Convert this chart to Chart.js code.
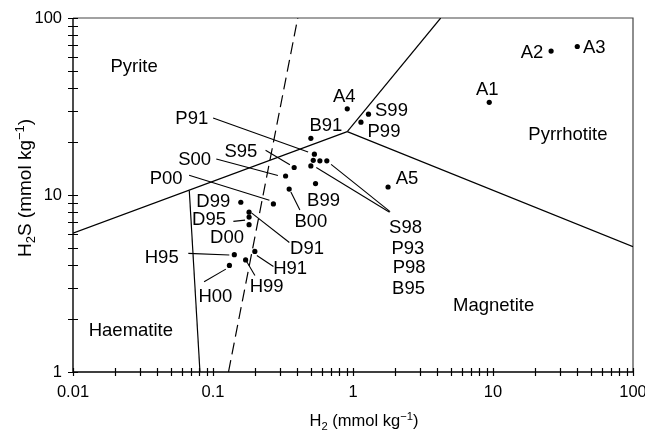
<!DOCTYPE html>
<html><head><meta charset="utf-8">
<script src="https://cdn.jsdelivr.net/npm/chart.js@4/dist/chart.umd.min.js"></script>
<style>html,body{margin:0;padding:0;background:#fff}#wrap{width:645px;height:430px}canvas{display:block}</style>
</head><body><div id="wrap"><canvas id="c" width="645" height="430"></canvas></div>
<script>
// ---- data ----
const sampleNames = ['A1','A2','A3','A4','A5','S99','P99','B91','P91','S95','S00','P00','B00','B99','S98','P93','P98','B95','D99','D91','D95','D00','H95','H00','H99','H91'];
const h2Values  = [9.4, 26, 40, 0.91, 1.78, 1.29, 1.14, 0.50, 0.53, 0.38, 0.33, 0.27, 0.35, 0.54, 0.52, 0.58, 0.65, 0.50, 0.158, 0.181, 0.181, 0.181, 0.142, 0.131, 0.171, 0.199];
const h2sValues = [33.4, 65, 69, 30.7, 11.1, 28.6, 25.8, 20.9, 17.0, 14.3, 12.8, 8.9, 10.8, 11.6, 15.7, 15.6, 15.6, 14.6, 9.1, 8.0, 7.5, 6.8, 4.6, 4.0, 4.3, 4.8];

const xTickLabels = ['0.01','0.1','1','10','100'];
const yTickLabels = ['1','10','100'];

// phase boundaries (H2, H2S)
const pyriteLowerH2 = [0.01, 0.91];   const pyriteLowerH2S = [6.08, 22.8];
const pyrPyrrH2 = [0.91, 4.23];       const pyrPyrrH2S = [22.8, 100];
const pyrrMagH2 = [0.91, 100];        const pyrrMagH2S = [22.8, 5.1];
const haemMagH2 = [0.0677, 0.0807];   const haemMagH2S = [10.6, 1];
const dashedH2 = [0.129, 0.403];      const dashedH2S = [1, 100];

const regionNames = ['Pyrite','Pyrrhotite','Magnetite','Haematite'];
const regionH2  = [0.0273, 34.3, 10.1, 0.0259];
const regionH2S = [54.3, 22.4, 2.41, 1.73];

// ---- layout of sample labels (pixel offsets from each point) ----
const labelLayout = {
 A1:{dx:-2,dy:-14}, A2:{dx:-19,dy:0}, A3:{dx:17,dy:0}, A4:{dx:-3,dy:-13}, A5:{dx:19,dy:-10},
 S99:{dx:23,dy:-5}, P99:{dx:23,dy:8}, B91:{dx:15,dy:-14},
 P91:{dx:-122.6,dy:-36.5, lead:[-101.3,-36.3,-6.3,-2.3]},
 S95:{dx:-53.3,dy:-17.3, lead:[-28.6,-17.3,-4.3,-2.8]},
 S00:{dx:-91,dy:-17.3, lead:[-69.3,-17,-7.7,-0.6]},
 P00:{dx:-107.3,dy:-26.7, lead:[-84.3,-28.7,-4,-3.7]},
 B00:{dx:21.7,dy:31.7, lead:[1.7,3,10.7,21]},
 B99:{dx:8,dy:16},
 S98:{dx:92.3,dy:65.7}, P93:{dx:88,dy:86.3},
 P98:{dx:82.3,dy:106, lead:[4.3,3.6,63.3,50.8]},
 B95:{dx:97.7,dy:121, lead:[5.4,1.6,78.7,46.3]},
 D99:{dx:-27.5,dy:-2}, D91:{dx:58,dy:35.7, lead:[2.7,1,40.3,30.4]},
 D95:{dx:-40,dy:1.3, lead:[-15.7,4.3,-4,3]}, D00:{dx:-22,dy:11.7},
 H95:{dx:-72.6,dy:1.6, lead:[-46,-1.3,-5,0.3]}, H00:{dx:-14,dy:29.7, lead:[-25.3,16.4,-3.6,3.7]},
 H99:{dx:21,dy:25.7, lead:[1,1.7,9.3,15.7]}, H91:{dx:35.3,dy:15.7, lead:[2,4,18.6,15]}
};

const FONT = '"Liberation Sans", Arial, Helvetica, sans-serif';
const LABEL_SIZE = 18.5;

function pts(xs, ys){ return xs.map((x,i)=>({x:x, y:ys[i]})); }
function decadeTicks(lo, hi){ const t=[]; for(let d=lo; d<hi*0.999; d*=10){ for(let m=1;m<10;m++) t.push(m*d); } t.push(hi); return t; }

const lineStyle = {showLine:true, pointRadius:0, borderColor:'#000', borderWidth:1.2, fill:false, tension:0};

function capText(ctx, text, x, cy, size, align){
  ctx.font = size + 'px ' + FONT;
  ctx.textAlign = align || 'center';
  ctx.textBaseline = 'alphabetic';
  ctx.fillText(text, x, cy + size*0.358);
}

function richParts(ctx, parts, size){
  const out = []; let w = 0;
  for (const p of parts){
    const s = (p.sub||p.sup) ? size*0.68 : size;
    ctx.font = s + 'px ' + FONT;
    const pw = ctx.measureText(p.t).width;
    out.push({t:p.t, s:s, w:pw, dy: p.sub ? size*0.22 : (p.sup ? -size*0.38 : 0)});
    w += pw;
  }
  return {items:out, width:w};
}
function drawRich(ctx, parts, size){
  const r = richParts(ctx, parts, size);
  let x = -r.width/2;
  ctx.textAlign='left'; ctx.textBaseline='alphabetic';
  for (const it of r.items){ ctx.font = it.s + 'px ' + FONT; ctx.fillText(it.t, x, it.dy); x += it.w; }
}

const decorPlugin = {
  id:'decor',
  beforeDatasetsDraw(chart){
    const ctx = chart.ctx, xs = chart.scales.x, ys = chart.scales.y, a = chart.chartArea;
    ctx.save();
    ctx.strokeStyle = '#444'; ctx.lineWidth = 1.2;
    ctx.beginPath(); ctx.moveTo(a.left, a.top); ctx.lineTo(a.right, a.top); ctx.lineTo(a.right, a.bottom); ctx.stroke();
    ctx.strokeStyle = '#000'; ctx.lineWidth = 1.4;
    ctx.beginPath(); ctx.moveTo(a.left, a.top); ctx.lineTo(a.left, a.bottom); ctx.lineTo(a.right, a.bottom); ctx.stroke();
    ctx.lineWidth = 1.2;
    ctx.beginPath();
    for (const v of decadeTicks(0.01, 100)){
      const px = Math.round(xs.getPixelForValue(v)) + 0.5;
      ctx.moveTo(px, a.bottom-4); ctx.lineTo(px, a.bottom+4);
    }
    for (const v of decadeTicks(1, 100)){
      const py = Math.round(ys.getPixelForValue(v)) + 0.5;
      ctx.moveTo(a.left-5, py); ctx.lineTo(a.left+5, py);
    }
    ctx.stroke();
    ctx.fillStyle = '#000';
    regionNames.forEach((n,i)=>{
      capText(ctx, n, xs.getPixelForValue(regionH2[i]), ys.getPixelForValue(regionH2S[i]), LABEL_SIZE);
    });
    ctx.save();
    ctx.translate((a.left + a.right)/2 + 11, 426);
    drawRich(ctx, [{t:'H'},{t:'2',sub:true},{t:' (mmol kg'},{t:'\u22121',sup:true},{t:')'}], 16.5);
    ctx.restore();
    ctx.save();
    ctx.translate(31, (a.top + a.bottom)/2 - 7);
    ctx.rotate(-Math.PI/2);
    drawRich(ctx, [{t:'H'},{t:'2',sub:true},{t:'S (mmol kg'},{t:'\u22121',sup:true},{t:')'}], 19);
    ctx.restore();
    ctx.restore();
  },
  afterDatasetsDraw(chart){
    const ctx = chart.ctx, xs = chart.scales.x, ys = chart.scales.y;
    ctx.save();
    ctx.fillStyle = '#000'; ctx.strokeStyle = '#000'; ctx.lineWidth = 1.1;
    sampleNames.forEach((n,i)=>{
      const L = labelLayout[n]; if (!L) return;
      const px = xs.getPixelForValue(h2Values[i]), py = ys.getPixelForValue(h2sValues[i]);
      if (L.lead){
        ctx.beginPath(); ctx.moveTo(px+L.lead[0], py+L.lead[1]); ctx.lineTo(px+L.lead[2], py+L.lead[3]); ctx.stroke();
      }
      capText(ctx, n, px+L.dx, py+L.dy, LABEL_SIZE);
    });
    ctx.restore();
  }
};

new Chart(document.getElementById('c'), {
  type:'scatter',
  data:{datasets:[
    {label:'Samples', data:pts(h2Values, h2sValues), pointRadius:2.6, pointBackgroundColor:'#000', pointBorderWidth:0, showLine:false},
    Object.assign({label:'Pyrite lower boundary', data:pts(pyriteLowerH2, pyriteLowerH2S)}, lineStyle),
    Object.assign({label:'Pyrite/Pyrrhotite', data:pts(pyrPyrrH2, pyrPyrrH2S)}, lineStyle),
    Object.assign({label:'Pyrrhotite/Magnetite', data:pts(pyrrMagH2, pyrrMagH2S)}, lineStyle),
    Object.assign({label:'Haematite/Magnetite', data:pts(haemMagH2, haemMagH2S)}, lineStyle),
    Object.assign({label:'Dashed', data:pts(dashedH2, dashedH2S), borderDash:[12,6]}, lineStyle)
  ]},
  options:{
    responsive:false, animation:false, devicePixelRatio:1,
    layout:{padding:{top:18, right:12, left:0, bottom:0}},
    plugins:{legend:{display:false}, tooltip:{enabled:false}, title:{display:false}},
    scales:{
      x:{type:'logarithmic', position:'bottom', min:0.01, max:100,
        grid:{display:false, drawTicks:false}, border:{display:false},
        ticks:{color:'#000', font:{family:FONT, size:16.5}, padding:11, maxRotation:0, autoSkip:false,
          callback:(v,i)=>xTickLabels[i]},
        afterBuildTicks:(s)=>{ s.ticks = xTickLabels.map(t=>({value:parseFloat(t)})); },
        afterFit:(s)=>{ s.height = 58; s.paddingLeft = 0; s.paddingRight = 0; }
      },
      y:{type:'logarithmic', position:'left', min:1, max:100,
        grid:{display:false, drawTicks:false}, border:{display:false},
        ticks:{color:'#000', font:{family:FONT, size:16.5}, padding:11, autoSkip:false,
          callback:(v,i)=>yTickLabels[i]},
        afterBuildTicks:(s)=>{ s.ticks = yTickLabels.map(t=>({value:parseFloat(t)})); },
        afterFit:(s)=>{ s.width = 73; s.paddingTop = 0; s.paddingBottom = 0; }
      }
    }
  },
  plugins:[decorPlugin]
});
</script></body></html>
